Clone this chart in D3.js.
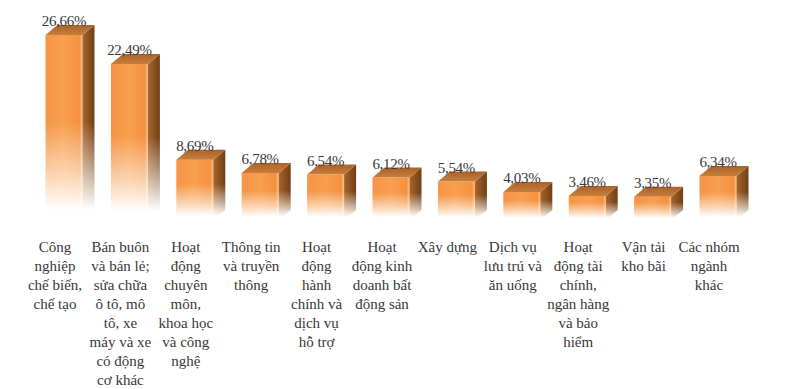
<!DOCTYPE html>
<html>
<head>
<meta charset="utf-8">
<script src="https://cdn.jsdelivr.net/npm/d3@7"></script>
<style>
  body { margin: 0; background: #fff; }
  svg text { font-family: "Liberation Serif", "Times New Roman", serif; fill: #383838; }
</style>
</head>
<body>
<div id="chart"></div>
<script>
var svgWidth = 806;
var svgHeight = 389;

// category labels, already broken into lines as in the picture
var categories = [
    ["Công", "nghiệp", "chế biến,", "chế tạo"],
    ["Bán buôn", "và bán lẻ;", "sửa chữa", "ô tô, mô", "tô, xe", "máy và xe", "có động", "cơ khác"],
    ["Hoạt", "động", "chuyên", "môn,", "khoa học", "và công", "nghệ"],
    ["Thông tin", "và truyền", "thông"],
    ["Hoạt", "động", "hành", "chính và", "dịch vụ", "hỗ trợ"],
    ["Hoạt", "động kinh", "doanh bất", "động sản"],
    ["Xây dựng"],
    ["Dịch vụ", "lưu trú và", "ăn uống"],
    ["Hoạt", "động tài", "chính,", "ngân hàng", "và bảo", "hiểm"],
    ["Vận tải", "kho bãi"],
    ["Các nhóm", "ngành", "khác"]
];
var values = [26.66, 22.49, 8.69, 6.78, 6.54, 6.12, 5.54, 4.03, 3.46, 3.35, 6.34];

var baseline = 220;
var barW = 37;
var depthX = 12;
var depthY = 10;

var svg = d3.select("#chart")
    .append("svg")
    .attr("width", svgWidth)
    .attr("height", svgHeight);

var defs = svg.append("defs");

var x = d3.scaleBand()
    .domain(d3.range(values.length))
    .range([22.3, 741.7]);

var y = d3.scaleLinear()
    .domain([0, 30])
    .range([baseline, baseline - 30 * 6.94]);

// gradients for the faces
var front = defs.append("linearGradient").attr("id", "front");
front.append("stop").attr("offset", "0%").attr("stop-color", "#f59444");
front.append("stop").attr("offset", "50%").attr("stop-color", "#f89f50");
front.append("stop").attr("offset", "92%").attr("stop-color", "#f4913f");
front.append("stop").attr("offset", "100%").attr("stop-color", "#fbc28a");

var side = defs.append("linearGradient").attr("id", "side");
side.append("stop").attr("offset", "0%").attr("stop-color", "#a8652c");
side.append("stop").attr("offset", "100%").attr("stop-color", "#6f3f16");

var top_ = defs.append("linearGradient").attr("id", "top")
    .attr("x1", 0).attr("y1", 1).attr("x2", 0).attr("y2", 0);
top_.append("stop").attr("offset", "0%").attr("stop-color", "#c97d3a");
top_.append("stop").attr("offset", "100%").attr("stop-color", "#a8632a");

// fade to white near the bottom
var fade = defs.append("linearGradient").attr("id", "fade")
    .attr("x1", 0).attr("y1", 0).attr("x2", 0).attr("y2", 1);
fade.append("stop").attr("offset", "0%").attr("stop-color", "#fff");
fade.append("stop").attr("offset", "50%").attr("stop-color", "#fff");
fade.append("stop").attr("offset", "75%").attr("stop-color", "#777");
fade.append("stop").attr("offset", "95%").attr("stop-color", "#000");

var bars = svg.selectAll(".bar")
    .data(values)
    .enter()
    .append("g")
    .attr("class", "bar");

bars.each(function (d, i) {
    var g = d3.select(this);
    var x0 = x(i) + x.bandwidth() / 2 - 9.5;
    var yTop = y(d);

    var mask = defs.append("mask").attr("id", "m" + i);
    mask.append("rect")
        .attr("x", x0 - 2)
        .attr("y", yTop - depthY - 2)
        .attr("width", barW + depthX + 4)
        .attr("height", baseline - yTop + depthY + 2)
        .attr("fill", "url(#fade)");

    var inner = g.append("g").attr("mask", "url(#m" + i + ")");

    inner.append("rect")
        .attr("x", x0)
        .attr("y", yTop)
        .attr("width", barW)
        .attr("height", baseline - yTop)
        .attr("fill", "url(#front)");

    inner.append("path")
        .attr("d", "M" + (x0 + barW) + "," + yTop +
            "L" + (x0 + barW + depthX) + "," + (yTop - depthY) +
            "L" + (x0 + barW + depthX) + "," + (baseline - depthY) +
            "L" + (x0 + barW) + "," + baseline + "Z")
        .attr("fill", "url(#side)");

    inner.append("path")
        .attr("d", "M" + x0 + "," + yTop +
            "L" + (x0 + depthX) + "," + (yTop - depthY) +
            "L" + (x0 + barW + depthX) + "," + (yTop - depthY) +
            "L" + (x0 + barW) + "," + yTop + "Z")
        .attr("fill", "url(#top)");

    g.append("text")
        .attr("x", x0 + barW / 2)
        .attr("y", yTop - 9)
        .attr("text-anchor", "middle")
        .attr("font-size", "15px")
        .attr("letter-spacing", "-0.3px")
        .text(d3.format(".2f")(d).replace(".", ",") + "%");
});

var labels = svg.selectAll(".cat")
    .data(categories)
    .enter()
    .append("text")
    .attr("class", "cat")
    .attr("font-size", "15px")
    .attr("text-anchor", "middle");

labels.selectAll("tspan")
    .data((d, i) => d.map(line => ({ line: line, i: i })))
    .enter()
    .append("tspan")
    .attr("x", d => x(d.i) + x.bandwidth() / 2)
    .attr("y", (d, j) => 252 + j * 19)
    .text(d => d.line);
</script>
</body>
</html>
